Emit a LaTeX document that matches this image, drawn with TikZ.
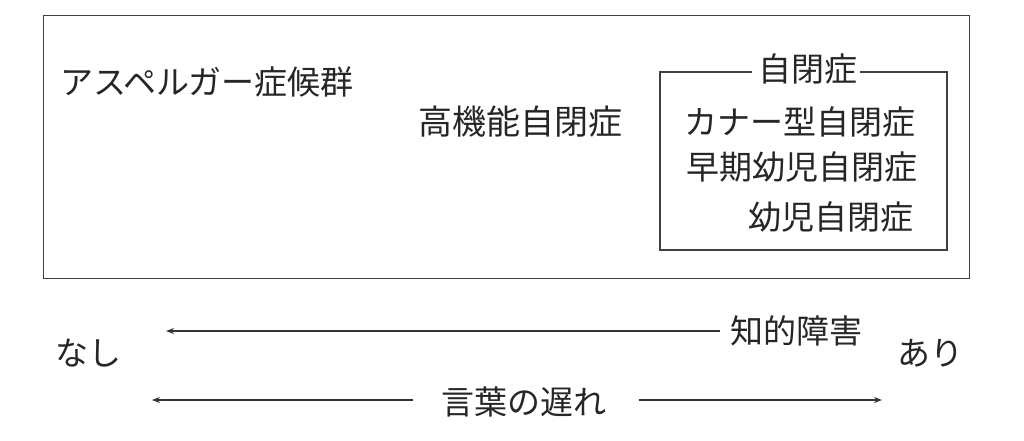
\documentclass[tikz,border=0pt]{standalone}
\usepackage{fontspec}
\setmainfont{Noto Sans CJK JP}
\usetikzlibrary{arrows.meta,calc}
\begin{document}
\begin{tikzpicture}[x=1pt,y=-1pt,
  lbl/.style={inner sep=0pt,font=\fontsize{33}{33}\selectfont,text=black!85},
  frame/.style={draw=black!75,line width=1.3pt},
  arr/.style={draw=black!80,line width=1.5pt,-{Stealth[length=8pt,width=6pt]}}]
\useasboundingbox (0,0) rectangle (1024,440);
\node[frame,minimum width=926pt,minimum height=263pt,anchor=north west,inner sep=0pt] (outer) at (43,15) {};
\node[lbl,anchor=west] (asp) at (60,82) {アスペルガー症候群};
\node[lbl,anchor=west,font=\fontsize{34}{34}\selectfont] (hfa) at (418,122) {高機能自閉症};
\node[lbl] (aut) at (808,69) {自閉症};
\coordinate (bl) at (660,250);
\coordinate (br) at (947,250);
\coordinate (tl) at (660,72);
\coordinate (tr) at (947,72);
\draw[frame] ($(aut.west)+(-6,3)$) -- (tl) -- (bl) -- (br) -- (tr) -- ($(aut.east)+(2,3)$);
\node[lbl,anchor=west] (kan) at (684,122) {カナー型自閉症};
\node[lbl,anchor=west] (ear) at (686,167) {早期幼児自閉症};
\node[lbl,anchor=west] (inf) at (748,217) {幼児自閉症};
\node[lbl] (nashi) at (88,353) {なし};
\node[lbl] (ari) at (930,353) {あり};
\node[lbl,anchor=west] (id) at (730,331) {知的障害};
\node[lbl] (ld) at (524,402) {言葉の遅れ};
\coordinate (a1) at (166,331);
\coordinate (a2l) at (152,400);
\coordinate (a2r) at (882,400);
\draw[arr] ($(id.west)+(-10,0)$) -- (a1);
\draw[arr] ($(ld.west)+(-28,-2)$) -- (a2l);
\draw[arr] ($(ld.east)+(32,-2)$) -- (a2r);
\end{tikzpicture}
\end{document}
